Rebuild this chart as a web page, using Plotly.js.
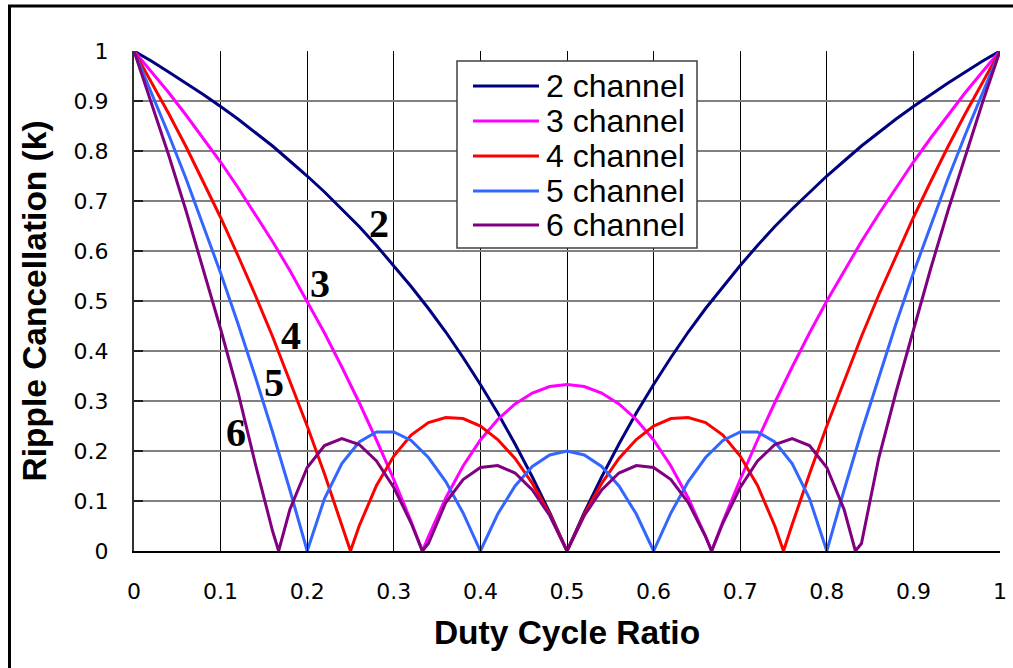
<!DOCTYPE html>
<html>
<head>
<meta charset="utf-8">
<script src="https://cdn.plot.ly/plotly-3.0.1.min.js"></script>
<style>
  html, body { margin: 0; padding: 0; background: #ffffff; }
  #chart { width: 1013px; height: 668px; }
</style>
</head>
<body>
<div id="chart"></div>
<script>
// Duty-cycle sample points shared by the 2- and 5-channel curves
const duty = [0,0.02,0.04,0.06,0.08,0.1,0.12,0.14,0.16,0.18,0.2,0.22,0.24,0.26,0.28,0.3,0.32,0.34,0.36,0.38,0.4,0.42,0.44,0.46,0.48,0.5,
  0.52,0.54,0.56,0.58,0.6,0.62,0.64,0.66,0.68,0.7,0.72,0.74,0.76,0.78,0.8,0.82,0.84,0.86,0.88,0.9,0.92,0.94,0.96,0.98,1];

// Sample points with the extra null points of the 3-, 4- and 6-channel curves
const duty3 = [0,0.02,0.04,0.06,0.08,0.1,0.12,0.14,0.16,0.18,0.2,0.22,0.24,0.26,0.28,0.3,0.32,0.333,0.34,0.36,0.38,0.4,0.42,0.44,0.46,0.48,0.5,
  0.52,0.54,0.56,0.58,0.6,0.62,0.64,0.66,0.667,0.68,0.7,0.72,0.74,0.76,0.78,0.8,0.82,0.84,0.86,0.88,0.9,0.92,0.94,0.96,0.98,1];
const duty4 = [0,0.02,0.04,0.06,0.08,0.1,0.12,0.14,0.16,0.18,0.2,0.22,0.24,0.25,0.26,0.28,0.3,0.32,0.34,0.36,0.38,0.4,0.42,0.44,0.46,0.48,0.5,
  0.52,0.54,0.56,0.58,0.6,0.62,0.64,0.66,0.68,0.7,0.72,0.74,0.75,0.76,0.78,0.8,0.82,0.84,0.86,0.88,0.9,0.92,0.94,0.96,0.98,1];
const duty6 = [0,0.02,0.04,0.06,0.08,0.1,0.12,0.14,0.16,0.167,0.18,0.2,0.22,0.24,0.26,0.28,0.3,0.32,0.333,0.34,0.36,0.38,0.4,0.42,0.44,0.46,0.48,0.5,
  0.52,0.54,0.56,0.58,0.6,0.62,0.64,0.66,0.667,0.68,0.7,0.72,0.74,0.76,0.78,0.8,0.82,0.833,0.84,0.86,0.88,0.9,0.92,0.94,0.96,0.98,1];

// Ripple cancellation factor k for each phase count
const k2 = [1,0.980,0.958,0.936,0.913,0.889,0.864,0.837,0.810,0.780,0.75,0.718,0.684,0.649,0.611,0.571,0.529,0.485,0.438,0.387,0.333,0.276,0.214,0.148,0.077,0,
  0.077,0.148,0.214,0.276,0.333,0.387,0.438,0.485,0.529,0.571,0.611,0.649,0.684,0.718,0.75,0.780,0.810,0.837,0.864,0.889,0.913,0.936,0.958,0.980,1];
const k3 = [1,0.959,0.917,0.872,0.826,0.778,0.727,0.674,0.619,0.561,0.5,0.436,0.368,0.297,0.222,0.143,0.059,0,0.029,0.106,0.170,0.222,0.263,0.294,0.316,0.329,0.333,
  0.329,0.316,0.294,0.263,0.222,0.170,0.106,0.029,0,0.059,0.143,0.222,0.297,0.368,0.436,0.5,0.561,0.619,0.674,0.727,0.778,0.826,0.872,0.917,0.959,1];
const k4 = [1,0.939,0.875,0.809,0.739,0.667,0.591,0.512,0.429,0.341,0.25,0.154,0.053,0,0.050,0.131,0.190,0.232,0.257,0.267,0.265,0.25,0.223,0.185,0.135,0.074,0,
  0.074,0.135,0.185,0.223,0.25,0.265,0.267,0.257,0.232,0.190,0.131,0.050,0,0.053,0.154,0.25,0.341,0.429,0.512,0.591,0.667,0.739,0.809,0.875,0.939,1];
const k5 = [1,0.918,0.833,0.745,0.652,0.556,0.455,0.349,0.238,0.122,0,0.105,0.175,0.218,0.238,0.238,0.221,0.187,0.139,0.076,0,0.074,0.130,0.169,0.192,0.2,
  0.192,0.169,0.130,0.074,0,0.076,0.139,0.187,0.221,0.238,0.238,0.218,0.175,0.105,0,0.122,0.238,0.349,0.455,0.556,0.652,0.745,0.833,0.918,1];
const k6 = [1,0.898,0.792,0.681,0.565,0.444,0.318,0.175,0.04,0,0.083,0.167,0.211,0.225,0.213,0.180,0.127,0.056,0,0.015,0.097,0.143,0.167,0.171,0.156,0.122,0.071,0,
  0.071,0.122,0.156,0.171,0.167,0.143,0.097,0.029,0,0.056,0.127,0.180,0.213,0.225,0.211,0.167,0.083,0,0.015,0.186,0.318,0.444,0.565,0.681,0.792,0.898,1];

const seriesNames = ['2 channel', '3 channel', '4 channel', '5 channel', '6 channel'];
const curveTags = ['2', '3', '4', '5', '6'];
const seriesColors = ['#000080', '#FF00FF', '#FF0000', '#3366FF', '#800080'];

const tickVals = [0,0.1,0.2,0.3,0.4,0.5,0.6,0.7,0.8,0.9,1];
const tickText = ['0','0.1','0.2','0.3','0.4','0.5','0.6','0.7','0.8','0.9','1'];

const xs = [duty, duty3, duty4, duty, duty6];
const ks = [k2, k3, k4, k5, k6];

const traces = ks.map((k, i) => ({
  type: 'scatter',
  mode: 'lines',
  name: seriesNames[i],
  x: xs[i],
  y: k,
  line: { color: seriesColors[i], width: 3 },
  hoverinfo: 'skip'
}));

// Plot area geometry in pixels (used to place the hand-drawn legend in paper units)
const W = 1013, H = 668;
const M = { l: 134, r: 13, t: 51, b: 117 };
const PW = W - M.l - M.r, PH = H - M.t - M.b;
const px = v => (v - M.l) / PW;
const py = v => (H - M.b - v) / PH;

const shapes = [];
const annotations = [];

// Outer chart frame (only its left and top edges fall inside the page)
shapes.push({
  type: 'rect', xref: 'paper', yref: 'paper', layer: 'above',
  x0: px(9.5), x1: px(1030), y0: py(690), y1: py(6),
  line: { color: '#000000', width: 3 }, fillcolor: 'rgba(0,0,0,0)'
});

// Legend box
shapes.push({
  type: 'rect', xref: 'paper', yref: 'paper', layer: 'above',
  x0: px(457), x1: px(697), y0: py(248), y1: py(61),
  line: { color: '#404040', width: 1.5 }, fillcolor: '#ffffff'
});
const legendRows = [86, 121, 156, 191, 225];
seriesNames.forEach((name, i) => {
  shapes.push({
    type: 'line', xref: 'paper', yref: 'paper', layer: 'above',
    x0: px(473), x1: px(539), y0: py(legendRows[i]), y1: py(legendRows[i]),
    line: { color: seriesColors[i], width: 3 }
  });
  annotations.push({
    xref: 'paper', yref: 'paper', x: px(544), y: py(legendRows[i]),
    xanchor: 'left', yanchor: 'middle', showarrow: false,
    text: name,
    font: { family: 'Liberation Sans, Arial, sans-serif', size: 32, color: '#000000' }
  });
});

// Curve tags beside each falling branch
const tagPos = [[0.283, 0.656], [0.215, 0.535], [0.181, 0.432], [0.162, 0.338], [0.118, 0.238]];
curveTags.forEach((t, i) => {
  annotations.push({
    xref: 'x', yref: 'y', x: tagPos[i][0], y: tagPos[i][1],
    xanchor: 'center', yanchor: 'middle', showarrow: false,
    text: '<b>' + t + '</b>',
    font: { family: 'Liberation Serif, Times New Roman, serif', size: 40, color: '#000000' }
  });
});

const tickFont = { family: 'DejaVu Sans, Verdana, sans-serif', size: 22, color: '#000000' };
const titleFont = { family: 'Liberation Sans, Arial, sans-serif', size: 33.5, color: '#000000', weight: 'bold' };

const layout = {
  width: W, height: H,
  margin: M,
  paper_bgcolor: '#ffffff',
  plot_bgcolor: '#ffffff',
  showlegend: false,
  xaxis: {
    range: [0, 1],
    tickvals: tickVals, ticktext: tickText,
    tickfont: tickFont,
    showgrid: true, gridcolor: '#000000', gridwidth: 1,
    showline: true, linecolor: '#000000', linewidth: 2,
    zeroline: false,
    ticks: 'inside', ticklen: 8, tickcolor: '#000000', tickwidth: 1,
    ticklabelstandoff: 20,
    title: { text: 'Duty Cycle Ratio', font: titleFont, standoff: 17 },
    fixedrange: true
  },
  yaxis: {
    range: [0, 1],
    tickvals: tickVals, ticktext: tickText,
    tickfont: tickFont,
    showgrid: true, gridcolor: '#808080', gridwidth: 2,
    showline: true, linecolor: '#303030', linewidth: 2,
    zeroline: false,
    ticks: 'inside', ticklen: 9, tickcolor: '#202020', tickwidth: 2,
    ticklabelstandoff: 19,
    title: { text: 'Ripple Cancellation (k)', font: titleFont, standoff: 17 },
    fixedrange: true
  },
  shapes: shapes,
  annotations: annotations
};

Plotly.newPlot('chart', traces, layout, { displayModeBar: false, staticPlot: true });
</script>
</body>
</html>
